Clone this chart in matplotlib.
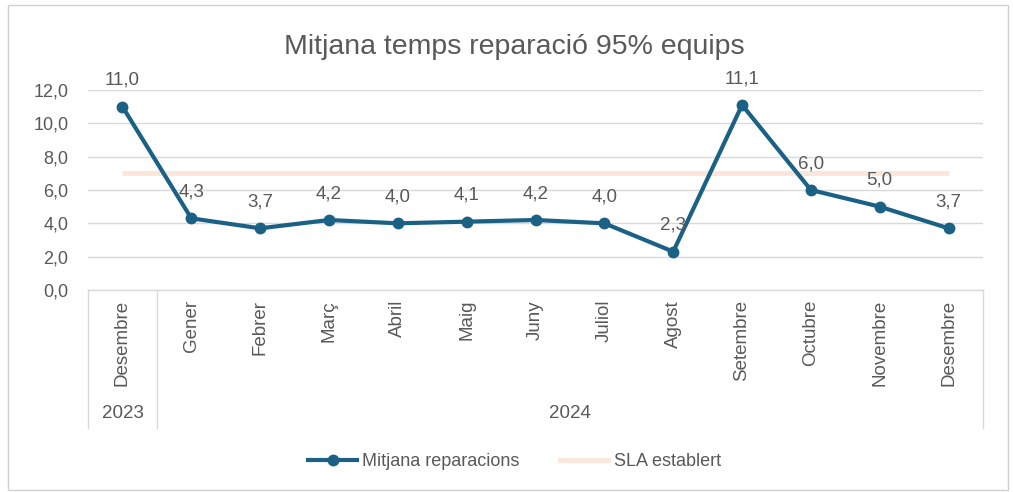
import matplotlib.pyplot as plt
from matplotlib.patches import Rectangle
from matplotlib.lines import Line2D

months = ["Desembre", "Gener", "Febrer", "Març", "Abril", "Maig", "Juny",
          "Juliol", "Agost", "Setembre", "Octubre", "Novembre", "Desembre"]
years = ["2023", "2024"]
year_counts = [1, 12]
repairs = [11.0, 4.3, 3.7, 4.2, 4.0, 4.1, 4.2, 4.0, 2.3, 11.1, 6.0, 5.0, 3.7]
sla = [7.0] * len(months)
yticks = [0, 2, 4, 6, 8, 10, 12]

plt.rcParams['font.family'] = ['Liberation Sans', 'DejaVu Sans']
line_col = "#1b6185"
sla_col = "#fbe7da"
txt_col = "#595959"
grid_col = "#d9d9d9"

fig = plt.figure(figsize=(10.13, 4.92), dpi=100)
fig.patches.append(Rectangle((0.008, 0.004), 0.987, 0.985, transform=fig.transFigure,
                             fill=False, edgecolor="#d0d0d0", linewidth=1))

ax = fig.add_axes([0.0869, 0.4106, 0.8835, 0.4065])
x = list(range(len(months)))
ax.plot(x, sla, color=sla_col, linewidth=3.5, solid_capstyle="butt", zorder=2)
ax.plot(x, repairs, color=line_col, linewidth=3, marker="o", markersize=7.5, zorder=3)
for xi, v in zip(x, repairs):
    ax.annotate(f"{v:.1f}".replace(".", ","), (xi, v), xytext=(0, 19),
                textcoords="offset points", ha="center", va="center",
                fontsize=13.5, color=txt_col, zorder=4)

ax.set_xlim(-0.5, len(months) - 0.5)
ax.set_ylim(0, 12)
ax.set_yticks(yticks)
ax.set_yticklabels([f"{t:.1f}".replace(".", ",") for t in yticks], fontsize=13, color=txt_col)
ax.grid(axis="y", color=grid_col, linewidth=1)
ax.set_axisbelow(True)
for s in ax.spines.values():
    s.set_visible(False)
ax.tick_params(axis="y", length=0, pad=14)
ax.set_xticks([])

# category axis below plot: month labels, separators, year labels
tr = ax.get_xaxis_transform()
for xi, m in zip(x, months):
    ax.text(xi, -0.05, m, transform=tr, rotation=90, ha="center", va="top",
            fontsize=13.5, color=txt_col)
ax.plot([-0.5, len(months) - 0.5], [0, 0], transform=tr, color=grid_col, lw=1, clip_on=False)
start = 0
bounds = [-0.5]
for y, n in zip(years, year_counts):
    ax.text(start + (n - 1) / 2, -0.62, y, transform=tr, ha="center", va="center",
            fontsize=13.5, color=txt_col)
    start += n
    bounds.append(start - 0.5)
for b in bounds:
    ax.plot([b, b], [0, -0.69], transform=tr, color=grid_col, lw=1, clip_on=False)

fig.text(0.508, 0.9045, "Mitjana temps reparació 95% equips", ha="center", va="center",
         fontsize=20.5, color=txt_col)

handles = [Line2D([], [], color=line_col, lw=3, marker="o", markersize=7.5),
           Line2D([], [], color=sla_col, lw=3.5)]
fig.legend(handles, ["Mitjana reparacions", "SLA establert"], loc="center",
           bbox_to_anchor=(0.508, 0.062), ncol=2, frameon=False, fontsize=13,
           labelcolor=txt_col, handlelength=2.7, columnspacing=2.2, handletextpad=0.3)

fig.savefig("out.png", dpi=100)
